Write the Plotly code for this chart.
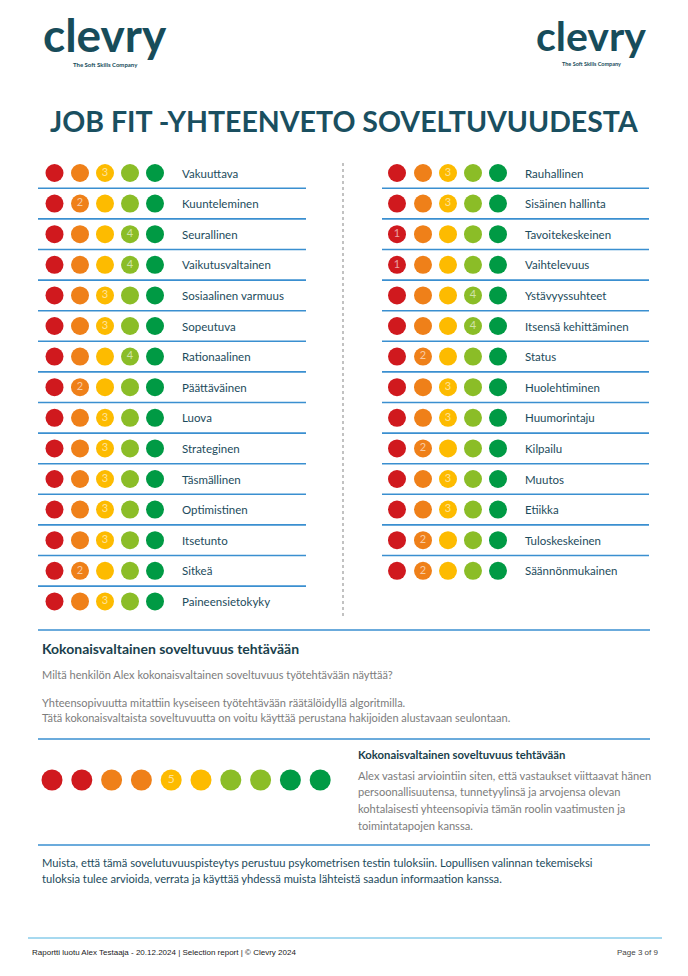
import plotly.graph_objects as go

# ---------------- data ----------------
left_labels = ["Vakuuttava", "Kuunteleminen", "Seurallinen", "Vaikutusvaltainen",
               "Sosiaalinen varmuus", "Sopeutuva", "Rationaalinen", "Päättäväinen",
               "Luova", "Strateginen", "Täsmällinen", "Optimistinen", "Itsetunto",
               "Sitkeä", "Paineensietokyky"]
left_values = [3, 2, 4, 4, 3, 3, 4, 2, 3, 3, 3, 3, 3, 2, 3]

right_labels = ["Rauhallinen", "Sisäinen hallinta", "Tavoitekeskeinen", "Vaihtelevuus",
                "Ystävyyssuhteet", "Itsensä kehittäminen", "Status", "Huolehtiminen",
                "Huumorintaju", "Kilpailu", "Muutos", "Etiikka", "Tuloskeskeinen",
                "Säännönmukainen"]
right_values = [3, 3, 1, 1, 4, 4, 2, 3, 3, 2, 3, 3, 2, 2]

level_colors = ["#D0191E", "#EF8019", "#FDBB00", "#8BBD27", "#009A44"]
overall_value = 5
overall_colors = ["#D0191E", "#D0191E", "#EF8019", "#EF8019", "#FDBB00",
                  "#FDBB00", "#8BBD27", "#8BBD27", "#009A44", "#009A44"]

title_text = "JOB FIT -YHTEENVETO SOVELTUVUUDESTA"
section_title = "Kokonaisvaltainen soveltuvuus tehtävään"
question = "Miltä henkilön Alex kokonaisvaltainen soveltuvuus työtehtävään näyttää?"
intro_lines = ["Yhteensopivuutta mitattiin kyseiseen työtehtävään räätälöidyllä algoritmilla.",
               "Tätä kokonaisvaltaista soveltuvuutta on voitu käyttää perustana hakijoiden alustavaan seulontaan."]
box_title = "Kokonaisvaltainen soveltuvuus tehtävään"
box_lines = ["Alex vastasi arviointiin siten, että vastaukset viittaavat hänen",
             "persoonallisuutensa, tunnetyylinsä ja arvojensa olevan",
             "kohtalaisesti yhteensopivia tämän roolin vaatimusten ja",
             "toimintatapojen kanssa."]
note_lines = ["Muista, että tämä sovelutuvuuspisteytys perustuu psykometrisen testin tuloksiin. Lopullisen valinnan tekemiseksi",
              "tuloksia tulee arvioida, verrata ja käyttää yhdessä muista lähteistä saadun informaation kanssa."]
footer_left = "Raportti luotu Alex Testaaja - 20.12.2024 | Selection report | © Clevry 2024"
footer_right = "Page 3 of 9"

# ---------------- layout constants ----------------
PAGE_W, PAGE_H = 688, 976
OFF = 8  # browser body margin
W, H = PAGE_W - 2 * OFF, PAGE_H - 2 * OFF
TEAL = "#1C4B5C"
BLUE = "#3A8FD0"
GRAY = "#7C7C7C"
FONT = "Lato"

row0, row_step = 173.0, 30.6
left_cx = [54.5, 80, 105, 130, 155]
right_cx = [397, 423, 448, 473, 498]

fig = go.Figure()
shapes = []
annotations = []


def add_column(labels, values, cxs, label_x, line_x0, line_x1):
    xs, ys, cols, txt = [], [], [], []
    for i, (lab, val) in enumerate(zip(labels, values)):
        y = row0 + i * row_step
        for k, cx in enumerate(cxs):
            xs.append(cx)
            ys.append(y)
            cols.append(level_colors[k])
            txt.append(str(val) if k + 1 == val else "")
        annotations.append(dict(x=label_x, y=y, text=lab, showarrow=False, xanchor="left",
                                yanchor="middle", font=dict(family=FONT, size=11.5, color=TEAL)))
        if i < len(labels) - 1:
            shapes.append(dict(type="line", x0=line_x0, x1=line_x1, y0=y + 15.3, y1=y + 15.3,
                               line=dict(color=BLUE, width=1.6)))
    fig.add_trace(go.Scatter(x=xs, y=ys, mode="markers+text", text=txt,
                             textposition="middle center",
                             textfont=dict(family=FONT, size=11, color="rgba(255,255,255,0.6)"),
                             marker=dict(size=18, color=cols, line=dict(width=0)),
                             hoverinfo="skip", showlegend=False))


add_column(left_labels, left_values, left_cx, 180, 38, 306)
add_column(right_labels, right_values, right_cx, 523, 382, 649)

# dotted divider
shapes.append(dict(type="line", x0=343, x1=343, y0=163, y1=617,
                   line=dict(color="#9A9A9A", width=1.2, dash="dot")))

# overall circles
ox = [52 + i * 29.8 for i in range(len(overall_colors))]
fig.add_trace(go.Scatter(x=ox, y=[780] * len(ox), mode="markers+text",
                         text=[str(overall_value) if i + 1 == overall_value else "" for i in range(len(ox))],
                         textposition="middle center",
                         textfont=dict(family=FONT, size=12, color="rgba(255,255,255,0.6)"),
                         marker=dict(size=21, color=overall_colors, line=dict(width=0)),
                         hoverinfo="skip", showlegend=False))

# section lines
for yy in [630, 739, 845]:
    shapes.append(dict(type="line", x0=38, x1=650, y0=yy, y1=yy, line=dict(color=BLUE, width=1.6)))
shapes.append(dict(type="line", x0=28, x1=662, y0=938, y1=938, line=dict(color="#4FB3E0", width=1)))

# logos
annotations += [
    dict(x=105, y=34, text="<b>clevry</b>", showarrow=False, xanchor="center", yanchor="middle",
         font=dict(family="Lato", size=46, color="#174C5A", weight=900)),
    dict(x=105, y=64, text="<b>The Soft Skills Company</b>", showarrow=False, xanchor="center",
         yanchor="middle", font=dict(family="Lato", size=6, color="#174C5A")),
    dict(x=591, y=35, text="<b>clevry</b>", showarrow=False, xanchor="center", yanchor="middle",
         font=dict(family="Lato", size=41, color="#174C5A", weight=900)),
    dict(x=591, y=63.5, text="<b>The Soft Skills Company</b>", showarrow=False, xanchor="center",
         yanchor="middle", font=dict(family="Lato", size=5.5, color="#174C5A")),
]

# title
annotations.append(dict(x=344, y=121, text="<b>" + title_text + "</b>", showarrow=False,
                        xanchor="center", yanchor="middle",
                        font=dict(family=FONT, size=28.5, color="#1A4F60")))

# lower section texts
annotations.append(dict(x=40, y=648, text="<b>" + section_title + "</b>", showarrow=False,
                        xanchor="left", yanchor="middle", font=dict(family=FONT, size=14, color="#1A3F4C")))
annotations.append(dict(x=40, y=674, text=question, showarrow=False, xanchor="left", yanchor="middle",
                        font=dict(family=FONT, size=11, color=GRAY)))
for i, t in enumerate(intro_lines):
    annotations.append(dict(x=40, y=702 + i * 15.5, text=t, showarrow=False, xanchor="left",
                            yanchor="middle", font=dict(family=FONT, size=11, color=GRAY)))

annotations.append(dict(x=356, y=754, text="<b>" + box_title + "</b>", showarrow=False,
                        xanchor="left", yanchor="middle", font=dict(family=FONT, size=11.3, color="#1A3F4C")))
for i, t in enumerate(box_lines):
    annotations.append(dict(x=356, y=775 + i * 16.7, text=t, showarrow=False, xanchor="left",
                            yanchor="middle", font=dict(family=FONT, size=11.1, color=GRAY)))

for i, t in enumerate(note_lines):
    annotations.append(dict(x=40, y=862 + i * 16.5, text=t, showarrow=False, xanchor="left",
                            yanchor="middle", font=dict(family=FONT, size=11.2, color=TEAL)))

annotations.append(dict(x=30, y=952, text=footer_left, showarrow=False, xanchor="left", yanchor="middle",
                        font=dict(family="Liberation Sans", size=8, color="#222222")))
annotations.append(dict(x=660, y=952, text=footer_right, showarrow=False, xanchor="right", yanchor="middle",
                        font=dict(family="Liberation Sans", size=8, color="#444444")))

fig.update_layout(
    width=W, height=H, margin=dict(l=0, r=0, t=0, b=0),
    paper_bgcolor="white", plot_bgcolor="white",
    xaxis=dict(range=[OFF, OFF + W], visible=False, fixedrange=True),
    yaxis=dict(range=[OFF + H, OFF], visible=False, fixedrange=True),
    shapes=shapes, annotations=annotations, showlegend=False,
)

fig.write_html("out.html", config={"displayModeBar": False})
